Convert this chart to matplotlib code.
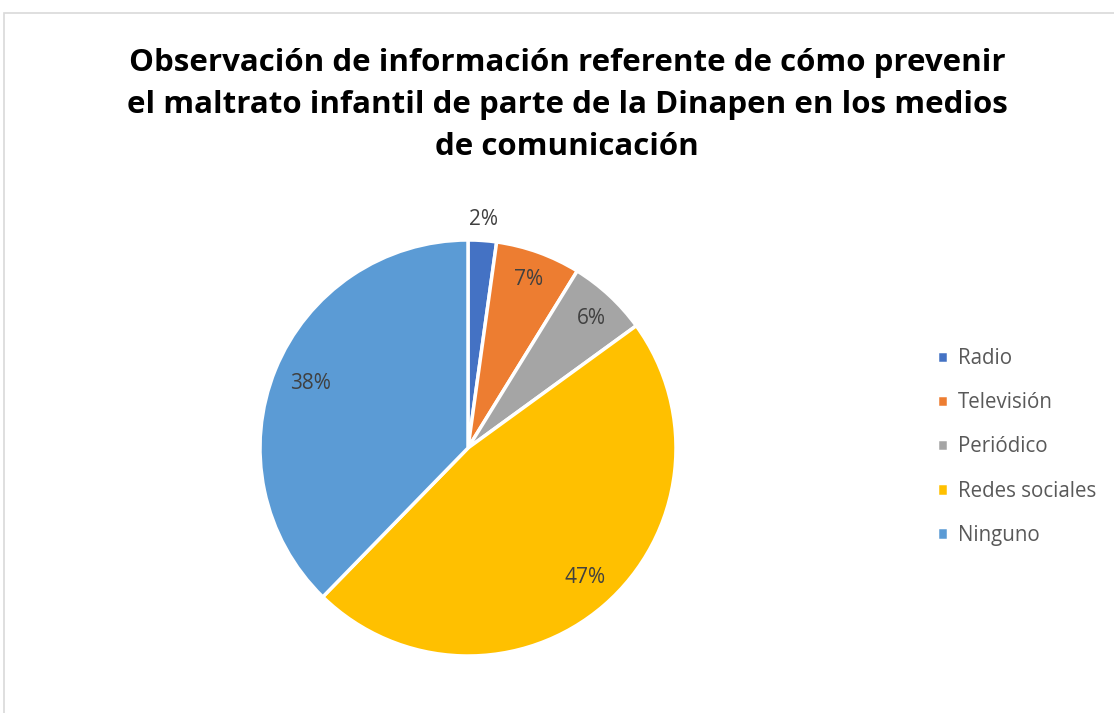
import numpy as np
import matplotlib
matplotlib.use('Agg')
import matplotlib.pyplot as plt
from matplotlib.patches import Rectangle

plt.rcParams['font.family'] = ['Open Sans', 'DejaVu Sans']

categories = ['Radio', 'Televisión', 'Periódico', 'Redes sociales', 'Ninguno']
values = [2.2, 6.6, 6.2, 47.3, 37.7]
colors = ['#4472C4', '#ED7D31', '#A5A5A5', '#FFC000', '#5B9BD5']
title = ('Observación de información referente de cómo prevenir\n'
         'el maltrato infantil de parte de la Dinapen en los medios\n'
         'de comunicación')

fig = plt.figure(figsize=(11.14, 7.13), dpi=100)
W, H = 1114, 713

# light chart border (the chart area is clipped on the right/bottom)
fig.patches.append(Rectangle((4 / W, -0.1), 1.2, (H - 13) / H + 0.1,
                             transform=fig.transFigure, fill=False,
                             edgecolor='#D9D9D9', linewidth=1.2))

fig.text(567 / W, 1 - 105 / H, title, ha='center', va='center',
         fontsize=22.5, fontweight='bold', color='#000000', linespacing=1.52)

cx, cy, r = 468, 448, 208
ax = fig.add_axes([(cx - r) / W, (H - cy - r) / H, 2 * r / W, 2 * r / H])
wedges, _ = ax.pie(values, colors=colors, startangle=90, counterclock=False,
                   radius=1, wedgeprops=dict(edgecolor='white', linewidth=2.5))
ax.set_xlim(-1, 1)
ax.set_ylim(-1, 1)
ax.set_aspect('equal')
ax.axis('off')

# label radius / angle shift for each slice (Excel "best fit" placement)
label_r = [1.10, 0.86, 0.86, 0.84, 0.82]
label_shift = [0, 0, -0.6, 1.3, 0]
total = sum(values)
for w, v, lr, sh in zip(wedges, values, label_r, label_shift):
    ang = np.deg2rad((w.theta1 + w.theta2) / 2 + sh)
    ax.text(lr * np.cos(ang), lr * np.sin(ang), '{:.0f}%'.format(v / total * 100),
            ha='center', va='center', fontsize=15, color='#404040')

leg = fig.legend(wedges, categories, loc='center left',
                 bbox_to_anchor=(918 / W, 1 - 447 / H), frameon=False,
                 fontsize=14.8, labelcolor='#595959', handlelength=0.55,
                 handleheight=0.55, handletextpad=0.5, labelspacing=1.13)

fig.savefig('out.png', dpi=100, facecolor='white')
